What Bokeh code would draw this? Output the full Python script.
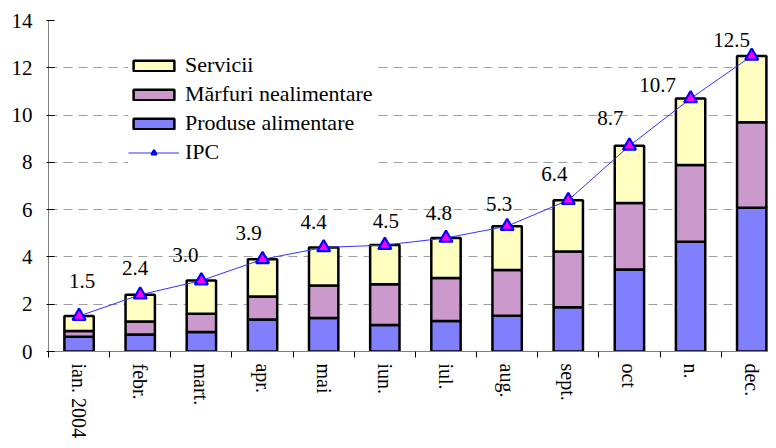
from bokeh.plotting import figure
from bokeh.models import (ColumnDataSource, Range1d, FixedTicker, Legend, LegendItem)
from bokeh.core.properties import value
from bokeh.embed import file_html
from bokeh.resources import INLINE

# ---- data ----
months = ["ian. 2004", "febr.", "mart.", "apr.", "mai", "iun.", "iul.",
          "aug.", "sept.", "oct", "n.", "dec."]
produse_alimentare = [0.62, 0.72, 0.82, 1.35, 1.42, 1.12, 1.29, 1.51, 1.87, 3.47, 4.64, 6.08]
marfuri_nealimentare = [0.25, 0.55, 0.78, 0.98, 1.37, 1.72, 1.82, 1.94, 2.36, 2.81, 3.25, 3.62]
servicii = [0.63, 1.13, 1.40, 1.57, 1.61, 1.66, 1.69, 1.85, 2.17, 2.42, 2.81, 2.80]
ipc = [1.5, 2.4, 3.0, 3.9, 4.4, 4.5, 4.8, 5.3, 6.4, 8.7, 10.7, 12.5]
y_ticks = [0, 2, 4, 6, 8, 10, 12, 14]

# label nudges (screen px), style only
label_dx = [3, -5, -16, -14, -10, 1, -7, -8, -14, -19, -33, -20]
label_dy = [-35, -27, -26, -26, -25, -24, -25, -22, -26, -28, -14, -16]

FONT = "'Liberation Serif', 'Times New Roman', serif"
FS = "21px"

xs = [i + 0.5 for i in range(len(months))]
src = ColumnDataSource(data=dict(
    x=xs, alim=produse_alimentare, neal=marfuri_nealimentare, serv=servicii,
    ipc=ipc, lbl=["%.1f" % v for v in ipc], dx=label_dx, dy=label_dy))

p = figure(width=768, height=440, output_backend="svg", toolbar_location=None,
           x_range=Range1d(0, 720 / 61.15), y_range=Range1d(0, 14),
           min_border_left=48, min_border_right=0, min_border_top=20,
           min_border_bottom=10)
p.outline_line_color = None
p.background_fill_color = "white"

bars = p.vbar_stack(["alim", "neal", "serv"], x="x", width=0.48, source=src,
                    fill_color=["#8080FF", "#CC99CC", "#FFFFC0"],
                    line_color="black", line_width=2.5)

ln = p.line("x", "ipc", source=src, line_color="#3333FF", line_width=1)
mk = p.scatter("x", "ipc", source=src, marker="triangle", size=13,
               fill_color="#FF00FF", line_color="#0000FF", line_width=2.2)

p.text("x", "ipc", text="lbl", source=src, x_offset="dx", y_offset="dy",
       text_align="center", text_baseline="middle",
       text_font=value(FONT), text_font_size=FS, text_color="black")

# grid
p.xgrid.grid_line_color = None
p.ygrid.ticker = FixedTicker(ticks=y_ticks)
p.ygrid.grid_line_color = "#A0A0A0"
p.ygrid.grid_line_dash = "9 6"
p.ygrid.grid_line_width = 1

# y axis
p.yaxis.ticker = FixedTicker(ticks=y_ticks)
p.yaxis.axis_line_color = "#808080"
p.yaxis.axis_line_width = 1
p.yaxis.major_tick_line_color = "black"
p.yaxis.major_tick_in = 6
p.yaxis.major_tick_out = 2
p.yaxis.minor_tick_line_color = None
p.yaxis.major_label_standoff = 14
p.yaxis.major_label_text_font = FONT
p.yaxis.major_label_text_font_size = FS
p.yaxis.major_label_text_color = "black"

# x axis: labels at centres, ticks at boundaries (minor ticks)
p.xaxis.ticker = FixedTicker(ticks=xs, minor_ticks=list(range(len(months) + 1)))
p.xaxis.major_label_overrides = {x: m for x, m in zip(xs, months)}
p.xaxis.major_label_orientation = "vertical"
p.xaxis.axis_line_color = "#808080"
p.xaxis.major_tick_in = 0
p.xaxis.major_tick_out = 0
p.xaxis.minor_tick_in = 0
p.xaxis.minor_tick_out = 6
p.xaxis.minor_tick_line_color = "black"
p.xaxis.major_label_standoff = 6
p.xaxis.major_label_text_font = FONT
p.xaxis.major_label_text_font_size = "20px"
p.xaxis.major_label_text_color = "black"

legend = Legend(items=[
    LegendItem(label="Servicii", renderers=[bars[2]]),
    LegendItem(label="Mărfuri nealimentare", renderers=[bars[1]]),
    LegendItem(label="Produse alimentare", renderers=[bars[0]]),
    LegendItem(label="IPC", renderers=[ln, mk]),
], location=(80, 186))
legend.padding = 26
legend.spacing = 3
legend.glyph_width = 51
legend.glyph_height = 13
legend.label_height = 24
legend.label_standoff = 6
legend.label_text_font = FONT
legend.label_text_font_size = "22px"
legend.label_text_color = "black"
legend.border_line_color = None
legend.background_fill_color = "white"
legend.background_fill_alpha = 1
p.add_layout(legend, "center")

open("out.html", "w").write(file_html(p, INLINE))
